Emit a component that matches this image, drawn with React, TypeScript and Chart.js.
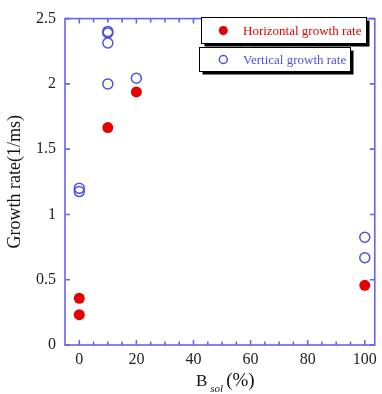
import React, { useEffect, useRef } from "react";
import { Chart, registerables } from "chart.js";

Chart.register(...registerables);

const horizX = [0, 0, 10, 20, 100];
const horizY = [0.358, 0.232, 1.665, 1.938, 0.457];
const vertX = [0, 0, 10, 10, 10, 10, 20, 100, 100];
const vertY = [1.2, 1.175, 2.402, 2.39, 2.313, 2.0, 2.043, 0.825, 0.668];
const xTicks = [0, 20, 40, 60, 80, 100];
const yTicks = [0, 0.5, 1, 1.5, 2, 2.5];
const xMinor = [-5, 5, 10, 15, 25, 30, 35, 45, 50, 55, 65, 70, 75, 85, 90, 95];
const legendLabels = ["Horizontal growth rate", "Vertical growth rate"];

const AXIS = "#6464f0";
const RED = "rgb(230,0,0)";
const BLUE = "rgb(80,80,230)";
const SERIF = "'Liberation Serif', 'DejaVu Serif', serif";

const framePlugin = {
  id: "frame",
  beforeDatasetsDraw(chart: any) {
    const { ctx, chartArea: a, scales } = chart;
    const xs = scales.x;
    const ys = scales.y;
    ctx.save();
    ctx.strokeStyle = AXIS;
    ctx.lineWidth = 1.6;
    ctx.strokeRect(a.left, a.top, a.right - a.left, a.bottom - a.top);
    ctx.beginPath();
    xTicks.forEach((v) => {
      const px = xs.getPixelForValue(v);
      ctx.moveTo(px, a.bottom);
      ctx.lineTo(px, a.bottom - 5);
      ctx.moveTo(px, a.top);
      ctx.lineTo(px, a.top + 5);
    });
    xMinor.forEach((v) => {
      const px = xs.getPixelForValue(v);
      if (px <= a.left + 1) return;
      ctx.moveTo(px, a.bottom);
      ctx.lineTo(px, a.bottom - 3.5);
      ctx.moveTo(px, a.top);
      ctx.lineTo(px, a.top + 4);
    });
    yTicks.forEach((v) => {
      const py = ys.getPixelForValue(v);
      ctx.moveTo(a.left, py);
      ctx.lineTo(a.left + 5, py);
      ctx.moveTo(a.right, py);
      ctx.lineTo(a.right - 5, py);
    });
    ctx.stroke();
    ctx.restore();
  },
  afterDraw(chart: any) {
    const { ctx, chartArea: a } = chart;
    ctx.save();
    // x-axis title with subscript
    ctx.fillStyle = "#111";
    ctx.textBaseline = "alphabetic";
    ctx.textAlign = "left";
    ctx.font = `17px ${SERIF}`;
    const bx = 196;
    const by = 386;
    ctx.fillText("B", bx, by);
    const bw = ctx.measureText("B").width;
    ctx.font = `italic 11px ${SERIF}`;
    ctx.fillText("sol", bx + bw + 3, by + 6);
    const sw = ctx.measureText("sol").width;
    ctx.font = `19px ${SERIF}`;
    ctx.fillText("(%)", bx + bw + 3 + sw + 3, by);

    // legend boxes
    const boxes = [
      { x: 201.5, y: 17.5, w: 165, h: 26, color: RED, filled: true, r: 4.5 },
      { x: 199.5, y: 47.5, w: 151, h: 24, color: BLUE, filled: false, r: 4 },
    ];
    boxes.forEach((b, i) => {
      ctx.fillStyle = "#000";
      ctx.fillRect(b.x + 3, b.y + 3, b.w, b.h);
      ctx.fillStyle = "#fff";
      ctx.fillRect(b.x, b.y, b.w, b.h);
      ctx.strokeStyle = "#000";
      ctx.lineWidth = 1;
      ctx.strokeRect(b.x, b.y, b.w, b.h);
      const cy = b.y + b.h / 2;
      ctx.beginPath();
      ctx.arc(223.3, cy, b.r, 0, Math.PI * 2);
      if (b.filled) {
        ctx.fillStyle = b.color;
        ctx.fill();
      } else {
        ctx.strokeStyle = b.color;
        ctx.lineWidth = 1.5;
        ctx.stroke();
      }
      ctx.fillStyle = b.color;
      ctx.font = `13px ${SERIF}`;
      ctx.textBaseline = "middle";
      ctx.fillText(legendLabels[i], 243, cy + 1);
    });
    ctx.restore();
  },
};

export default function App() {
  const ref = useRef<HTMLCanvasElement | null>(null);
  useEffect(() => {
    if (!ref.current) return;
    const chart = new Chart(ref.current, {
      type: "scatter",
      data: {
        datasets: [
          {
            label: legendLabels[0],
            data: horizX.map((x, i) => ({ x, y: horizY[i] })),
            backgroundColor: RED,
            borderColor: RED,
            borderWidth: 0,
            pointRadius: 5.5,
            pointHoverRadius: 5.5,
          },
          {
            label: legendLabels[1],
            data: vertX.map((x, i) => ({ x, y: vertY[i] })),
            backgroundColor: "rgba(0,0,0,0)",
            borderColor: BLUE,
            borderWidth: 1.5,
            pointRadius: 5,
            pointHoverRadius: 5,
          },
        ],
      },
      options: {
        responsive: false,
        animation: false,
        layout: { padding: { top: 12, right: 5, left: 0, bottom: 0 } },
        plugins: { legend: { display: false }, tooltip: { enabled: false } },
        scales: {
          x: {
            type: "linear",
            min: -5,
            max: 103.5,
            afterBuildTicks: (s: any) => {
              s.ticks = xTicks.map((v) => ({ value: v }));
            },
            afterFit: (s: any) => {
              s.height = 49;
            },
            grid: { display: false, drawTicks: false },
            border: { display: false },
            ticks: {
              font: { family: SERIF, size: 16 },
              color: "#222",
              padding: 5,
              maxRotation: 0,
              callback: (v: any) => String(v),
            },
          },
          y: {
            type: "linear",
            min: 0,
            max: 2.5,
            afterBuildTicks: (s: any) => {
              s.ticks = yTicks.map((v) => ({ value: v }));
            },
            afterFit: (s: any) => {
              s.width = 65;
            },
            grid: { display: false, drawTicks: false },
            border: { display: false },
            ticks: {
              font: { family: SERIF, size: 16 },
              color: "#222",
              padding: 9,
              callback: (v: any) => String(v),
            },
            title: {
              display: true,
              text: "Growth rate(1/ms)",
              font: { family: SERIF, size: 18 },
              color: "#111",
              padding: { top: 4, bottom: 4 },
            },
          },
        },
      },
      plugins: [framePlugin],
    });
    return () => chart.destroy();
  }, []);
  return (
    <div style={{ position: "fixed", left: 0, top: 0, width: 382, height: 394, background: "#fff" }}>
      <canvas ref={ref} width={382} height={394} style={{ display: "block" }} />
    </div>
  );
}
